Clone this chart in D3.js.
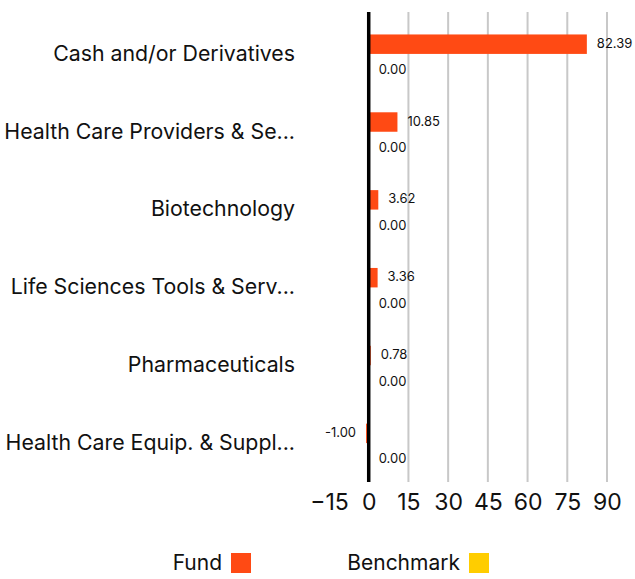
<!DOCTYPE html>
<html>
<head>
<meta charset="utf-8">
<script src="https://cdn.jsdelivr.net/npm/d3@7"></script>
<style>
  body { margin: 0; background: #fff; font-family: Inter, "Open Sans", sans-serif; }
</style>
</head>
<body>
<div id="container"></div>
<script>
// chart data
const categories = [
  "Cash and/or Derivatives",
  "Health Care Providers & Se...",
  "Biotechnology",
  "Life Sciences Tools & Serv...",
  "Pharmaceuticals",
  "Health Care Equip. & Suppl..."
];
const fundValues = [82.39, 10.85, 3.62, 3.36, 0.78, -1.0];
const benchmarkValues = [0, 0, 0, 0, 0, 0];
const xTicks = [-15, 0, 15, 30, 45, 60, 75, 90];
const seriesNames = ["Fund", "Benchmark"];
const seriesColors = ["#ff4a14", "#ffcd00"];

const svg = d3
  .select("#container")
  .append("svg")
  .attr("width", 635)
  .attr("height", 579);

const margin = { top: 15, left: 329, right: 28, bottom: 97 };
const width = 635 - margin.left - margin.right;
const height = 579 - margin.top - margin.bottom;

const g = svg
  .append("g")
  .attr("transform", "translate(" + margin.left + "," + margin.top + ")");

const x = d3.scaleLinear().domain([-15, 90]).range([0, width]);
const y = d3.scaleBand().domain(categories).range([0, height]);
const inner = d3
  .scaleBand()
  .domain(seriesNames)
  .range([y.bandwidth() * 0.25, y.bandwidth() * 0.75]);

// gridlines
g.selectAll(".grid")
  .data(xTicks.filter((t) => t > 0))
  .enter()
  .append("line")
  .attr("x1", (d) => x(d))
  .attr("x2", (d) => x(d))
  .attr("y1", -3)
  .attr("y2", height)
  .attr("stroke", "#c8c8c8")
  .attr("stroke-width", 2);

// x axis labels
const xAxis = g
  .append("g")
  .attr("transform", "translate(0," + height + ")")
  .call(d3.axisBottom(x).tickValues(xTicks).tickSize(0).tickPadding(12));
xAxis.select(".domain").remove();
xAxis
  .selectAll("text")
  .attr("font-family", "Inter, 'Open Sans', sans-serif")
  .attr("font-size", 23)
  .attr("fill", "#111");

// category labels
const yAxis = g
  .append("g")
  .call(d3.axisLeft(y).tickSize(0).tickPadding(34));
yAxis.select(".domain").remove();
yAxis
  .selectAll("text")
  .attr("font-family", "Inter, 'Open Sans', sans-serif")
  .attr("font-size", 21.3)
  .attr("fill", "#111");

const rows = categories.map((c, i) => ({
  cat: c,
  vals: [fundValues[i], benchmarkValues[i]]
}));

const row = g
  .selectAll(".row")
  .data(rows)
  .enter()
  .append("g")
  .attr("transform", (d) => "translate(0," + y(d.cat) + ")");

row
  .selectAll("rect")
  .data((d) => d.vals.map((v, j) => ({ v, s: seriesNames[j], c: seriesColors[j] })))
  .enter()
  .append("rect")
  .attr("x", (d) => x(Math.min(0, d.v)))
  .attr("y", (d) => inner(d.s))
  .attr("width", (d) => Math.abs(x(d.v) - x(0)))
  .attr("height", inner.bandwidth())
  .attr("fill", (d) => d.c);

row
  .selectAll(".val")
  .data((d) => d.vals.map((v, j) => ({ v, s: seriesNames[j] })))
  .enter()
  .append("text")
  .attr("class", "val")
  .attr("x", (d) => (d.v < 0 ? x(d.v) - 10 : x(d.v) + 10))
  .attr("y", (d) => inner(d.s) + inner.bandwidth() / 2 + (d.s === "Fund" ? -1 : 6))
  .attr("dy", "0.35em")
  .attr("text-anchor", (d) => (d.v < 0 ? "end" : "start"))
  .attr("font-family", "Inter, 'Open Sans', sans-serif")
  .attr("font-size", 13)
  .attr("fill", "#111")
  .text((d) => d.v.toFixed(2));

// zero line
g.append("line")
  .attr("x1", x(0))
  .attr("x2", x(0))
  .attr("y1", -3)
  .attr("y2", height)
  .attr("stroke", "#000")
  .attr("stroke-width", 3.5);

// legend
const legendX = [222, 460];
const legend = svg
  .selectAll(".legend")
  .data(seriesNames)
  .enter()
  .append("g")
  .attr("transform", (d, i) => "translate(" + legendX[i] + ",563)");
legend
  .append("text")
  .attr("x", 0)
  .attr("dy", "0.35em")
  .attr("text-anchor", "end")
  .attr("font-family", "Inter, 'Open Sans', sans-serif")
  .attr("font-size", 21)
  .attr("fill", "#111")
  .text((d) => d);
legend
  .append("rect")
  .attr("x", 9)
  .attr("y", -10)
  .attr("width", 20)
  .attr("height", 20)
  .attr("fill", (d, i) => seriesColors[i]);
</script>
</body>
</html>
